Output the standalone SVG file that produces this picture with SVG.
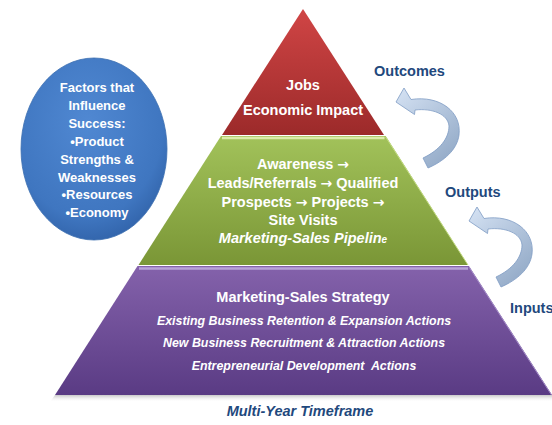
<svg xmlns="http://www.w3.org/2000/svg" width="552" height="425" viewBox="0 0 552 425">
<defs>
<linearGradient id="gRed" x1="0" y1="0" x2="0" y2="1"><stop offset="0" stop-color="#d04545"/><stop offset="1" stop-color="#9c2a2a"/></linearGradient>
<linearGradient id="gGreen" x1="0" y1="0" x2="0" y2="1"><stop offset="0" stop-color="#a2c25a"/><stop offset="1" stop-color="#7a9636"/></linearGradient>
<linearGradient id="gPurple" x1="0" y1="0" x2="0" y2="1"><stop offset="0" stop-color="#8462ab"/><stop offset="1" stop-color="#5a3b84"/></linearGradient>
<radialGradient id="gBlue" cx="0.45" cy="0.35" r="0.7"><stop offset="0" stop-color="#5088d2"/><stop offset="0.75" stop-color="#3f76c0"/><stop offset="1" stop-color="#2f60a6"/></radialGradient>
<linearGradient id="gArrow" x1="0" y1="0" x2="0.7" y2="1"><stop offset="0" stop-color="#d6e3f4"/><stop offset="1" stop-color="#94abc8"/></linearGradient>
<linearGradient id="gShadow" x1="0" y1="0" x2="0" y2="1"><stop offset="0" stop-color="#c8c8c8"/><stop offset="1" stop-color="#ffffff" stop-opacity="0"/></linearGradient>
<path id="curveArrow" d="M396,102 L404,88 L411,99.5 C440,95 462,112 459,135 C457,150 444,161 428,168 L423,158 C440,150 449,138 449,126 C448,114 432,108 415,110 L414.5,114.5 Z"/>
<style>
.w{fill:#ffffff;font-family:"Liberation Sans",Arial,sans-serif;font-weight:bold;text-anchor:middle}
.wb{font-size:14.5px}
.wi{font-size:12.4px;font-style:italic}
.c{font-size:13px}
.ar{font-family:"DejaVu Sans",sans-serif;font-size:14px}
.lab{fill:#1f497d;font-family:"Liberation Sans",Arial,sans-serif;font-weight:bold;font-size:14.5px}
.arr{fill:url(#gArrow);stroke:#7f9cc4;stroke-width:0.8}
</style>
</defs>
<rect width="552" height="425" fill="#ffffff"/>

<g id="factors">
<ellipse cx="94" cy="149" rx="73" ry="91" fill="url(#gBlue)" stroke="#3a6db0" stroke-width="0.8"/>
<text class="w c" x="97" y="92">Factors that</text>
<text class="w c" x="97" y="110">Influence</text>
<text class="w c" x="97" y="128">Success:</text>
<text class="w c" x="97" y="146">•Product</text>
<text class="w c" x="97" y="164">Strengths &amp;</text>
<text class="w c" x="97" y="182">Weaknesses</text>
<text class="w c" x="97" y="199">•Resources</text>
<text class="w c" x="97" y="217">•Economy</text>
</g>

<g id="shadow">
<polygon points="55,395 552,395 552,402 50,402" fill="url(#gShadow)"/>
</g>

<g id="outcomes-layer">
<polygon points="303,9 384,135 222,135" fill="url(#gRed)"/>
<text class="w wb" x="303" y="90">Jobs</text>
<text class="w wb" x="303" y="115">Economic Impact</text>
</g>

<g id="outputs-layer">
<polygon points="221,136 385.7,136 468,265 138.5,265" fill="url(#gGreen)"/>
<line x1="222" y1="138" x2="384.5" y2="138" stroke="#dcecaa" stroke-width="2.5"/>
<line x1="385.7" y1="137" x2="468" y2="265" stroke="#c4dc84" stroke-width="1"/>
<text class="w wb" x="303" y="169">Awareness <tspan class="ar">→</tspan></text>
<text class="w wb" x="303" y="188">Leads/Referrals <tspan class="ar">→</tspan> Qualified</text>
<text class="w wb" x="303" y="207">Prospects <tspan class="ar">→</tspan> Projects <tspan class="ar">→</tspan></text>
<text class="w wb" x="303" y="225">Site Visits</text>
<text class="w wb" x="303" y="243" font-style="italic">Marketing-Sales Pipelin<tspan font-size="10px">e</tspan></text>
</g>

<g id="inputs-layer">
<polygon points="137.5,266 469,266 552,395 55,395" fill="url(#gPurple)"/>
<line x1="139" y1="268.5" x2="468" y2="268.5" stroke="#b8a3d8" stroke-width="2.5"/>
<line x1="469" y1="267" x2="551.5" y2="395" stroke="#a48cc8" stroke-width="1"/>
<text class="w wb" x="303" y="302">Marketing-Sales Strategy</text>
<text class="w wi" x="304" y="325">Existing Business Retention &amp; Expansion Actions</text>
<text class="w wi" x="304" y="347">New Business Recruitment &amp; Attraction Actions</text>
<text class="w wi" x="304" y="370" xml:space="preserve">Entrepreneurial Development  Actions</text>
</g>

<g id="timeframe">
<text x="300" y="416" fill="#1f497d" font-family="Liberation Sans, Arial, sans-serif" font-weight="bold" font-style="italic" font-size="14.5px" text-anchor="middle">Multi-Year Timeframe</text>
</g>

<g id="labels">
<text class="lab" x="374" y="76">Outcomes</text>
<text class="lab" x="445" y="197">Outputs</text>
<text class="lab" x="510" y="313">Inputs</text>
</g>

<g id="connectors">
<use href="#curveArrow" class="arr"/>
<use href="#curveArrow" class="arr" transform="translate(73,119)"/>
</g>
</svg>
